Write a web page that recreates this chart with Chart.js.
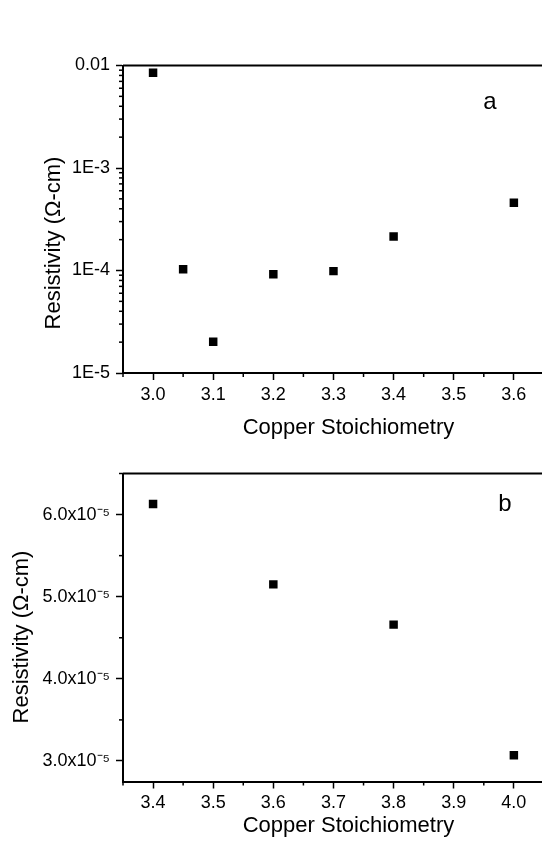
<!DOCTYPE html>
<html>
<head>
<meta charset="utf-8">
<script src="https://cdn.jsdelivr.net/npm/chart.js@4.4.1/dist/chart.umd.min.js"></script>
<style>
html,body{margin:0;padding:0;background:#fff;overflow:hidden;width:542px;height:843px;}
canvas{position:absolute;left:0;top:0;}
</style>
</head>
<body>
<canvas id="cA" width="580" height="843"></canvas>
<canvas id="cB" width="580" height="843"></canvas>
<script>
// Panel a
const stoichA = [3.0, 3.05, 3.1, 3.2, 3.3, 3.4, 3.6];
const resistA = [8.5e-3, 1.03e-4, 2.02e-5, 9.2e-5, 9.86e-5, 2.15e-4, 4.58e-4];
const xTicksA = [3.0, 3.1, 3.2, 3.3, 3.4, 3.5, 3.6];
const yTicksA = [1e-5, 1e-4, 1e-3, 1e-2];
const yLabelsA = ['1E-5', '1E-4', '1E-3', '0.01'];
// Panel b
const stoichB = [3.4, 3.6, 3.8, 4.0];
const resistB = [6.13e-5, 5.15e-5, 4.66e-5, 3.07e-5];
const xTicksB = [3.4, 3.5, 3.6, 3.7, 3.8, 3.9, 4.0];
const yTicksB = [3e-5, 4e-5, 5e-5, 6e-5];
const yLabelsB = ['3.0x10\u207B\u2075', '4.0x10\u207B\u2075', '5.0x10\u207B\u2075', '6.0x10\u207B\u2075'];
const xTitle = 'Copper Stoichiometry';
const yTitle = 'Resistivity (\u03A9-cm)';

const FONT = "'Liberation Sans', Arial, sans-serif";
const near = (a, b) => Math.abs(a - b) <= Math.abs(b) * 1e-6 + 1e-12;

function isMajor(list, v) { return list.some(t => near(v, t)); }

const framePlugin = {
  id: 'frame',
  afterDraw(chart, args, opts) {
    const ctx = chart.ctx, a = chart.chartArea;
    ctx.save();
    ctx.strokeStyle = '#000';
    ctx.lineWidth = 2;
    ctx.beginPath();
    ctx.moveTo(a.left, a.top); ctx.lineTo(a.right, a.top); ctx.lineTo(a.right, a.bottom);
    ctx.stroke();
    // minor tick marks
    ctx.lineWidth = 1.5;
    const xs = chart.scales.x, ys = chart.scales.y;
    xs.ticks.forEach(t => {
      if (isMajor(opts.xMajor, t.value)) return;
      const px = xs.getPixelForValue(t.value);
      ctx.beginPath(); ctx.moveTo(px, a.bottom); ctx.lineTo(px, a.bottom + 4); ctx.stroke();
    });
    ys.ticks.forEach(t => {
      if (isMajor(opts.yMajor, t.value)) return;
      const py = ys.getPixelForValue(t.value);
      ctx.beginPath(); ctx.moveTo(a.left, py); ctx.lineTo(a.left - 4, py); ctx.stroke();
    });
    // rotated y title
    ctx.fillStyle = '#000';
    ctx.font = '22px ' + FONT;
    ctx.textAlign = 'center';
    ctx.textBaseline = 'middle';
    ctx.translate(opts.yTitleX, opts.yTitleY);
    ctx.rotate(-Math.PI / 2);
    ctx.fillText(yTitle, 0, 0);
    ctx.restore();
    // panel letter
    ctx.save();
    ctx.fillStyle = '#000';
    ctx.font = '24px ' + FONT;
    ctx.textAlign = 'center';
    ctx.textBaseline = 'middle';
    ctx.fillText(opts.letter, opts.letterX, opts.letterY);
    ctx.restore();
  }
};

function makeChart(id, cfg) {
  const xs = cfg.xs, ys = cfg.ys;
  const pts = xs.map((x, i) => ({x: x, y: ys[i]}));
  return new Chart(document.getElementById(id), {
    type: 'scatter',
    data: { datasets: [{
      data: pts,
      pointStyle: 'rect',
      pointRadius: 6,
      pointHoverRadius: 6,
      borderWidth: 0,
      backgroundColor: '#000',
      borderColor: '#000'
    }]},
    plugins: [framePlugin],
    options: {
      responsive: false,
      animation: false,
      devicePixelRatio: 1,
      layout: { padding: cfg.padding },
      plugins: {
        legend: { display: false },
        tooltip: { enabled: false },
        frame: cfg.frame
      },
      scales: {
        x: {
          type: 'linear',
          min: cfg.xMin, max: cfg.xMax,
          afterBuildTicks: s => { s.ticks = cfg.xAll.map(v => ({value: v})); },
          afterFit: s => { s.height = cfg.xHeight; },
          grid: {
            display: true, drawOnChartArea: false, drawTicks: true, tickLength: 7,
            tickWidth: 1.5,
            tickColor: c => isMajor(cfg.xMajor, c.tick.value) ? '#000' : 'rgba(0,0,0,0)'
          },
          border: { display: true, color: '#000', width: 2 },
          ticks: {
            color: '#000', font: { family: FONT, size: 18 }, padding: 4,
            maxRotation: 0, autoSkip: false,
            callback: v => isMajor(cfg.xMajor, v) ? v.toFixed(1) : ''
          },
          title: { display: true, text: xTitle, color: '#000',
                   font: { family: FONT, size: 22 }, padding: { top: 0, bottom: 0 } }
        },
        y: {
          type: cfg.yType,
          min: cfg.yMin, max: cfg.yMax,
          afterBuildTicks: s => { s.ticks = cfg.yAll.map(v => ({value: v})); },
          afterFit: s => { s.width = 123; },
          grid: {
            display: true, drawOnChartArea: false, drawTicks: true, tickLength: 7,
            tickWidth: 1.5,
            tickColor: c => isMajor(cfg.yMajor, c.tick.value) ? '#000' : 'rgba(0,0,0,0)'
          },
          border: { display: true, color: '#000', width: 2 },
          ticks: {
            color: '#000', font: { family: FONT, size: 18 }, padding: 6,
            autoSkip: false,
            callback: v => {
              const i = cfg.yMajor.findIndex(t => near(v, t));
              return i >= 0 ? cfg.yLabels[i] : '';
            }
          }
        }
      }
    }
  });
}

// all tick positions (major + minor) for each axis
const xAllA = [2.95, 3.0, 3.05, 3.1, 3.15, 3.2, 3.25, 3.3, 3.35, 3.4, 3.45, 3.5, 3.55, 3.6, 3.65, 3.7];
const yAllA = [];
[1e-5, 1e-4, 1e-3].forEach(d => { for (let k = 1; k <= 9; k++) yAllA.push(k * d); });
yAllA.push(1e-2);
const xAllB = [3.35, 3.4, 3.45, 3.5, 3.55, 3.6, 3.65, 3.7, 3.75, 3.8, 3.85, 3.9, 3.95, 4.0, 4.05, 4.1];
const yAllB = [3e-5, 3.5e-5, 4e-5, 4.5e-5, 5e-5, 5.5e-5, 6e-5, 6.5e-5];

makeChart('cA', {
  xs: stoichA, ys: resistA,
  xMin: 2.95, xMax: 3.70, xAll: xAllA, xMajor: xTicksA,
  yType: 'logarithmic', yMin: 1e-5, yMax: 1e-2, yAll: yAllA, yMajor: yTicksA, yLabels: yLabelsA,
  xHeight: 68,
  padding: { left: 0, right: 5.5, top: 65.5, bottom: 843 - 373 - 68 },
  frame: { xMajor: xTicksA, yMajor: yTicksA, yTitleX: 54, yTitleY: 243, letter: 'a', letterX: 490, letterY: 102 }
});

makeChart('cB', {
  xs: stoichB, ys: resistB,
  xMin: 3.35, xMax: 4.10, xAll: xAllB, xMajor: xTicksB,
  yType: 'linear', yMin: 2.75e-5, yMax: 6.5e-5, yAll: yAllB, yMajor: yTicksB, yLabels: yLabelsB,
  xHeight: 58,
  padding: { left: 0, right: 5.5, top: 473.5, bottom: 843 - 781.5 - 58 },
  frame: { xMajor: xTicksB, yMajor: yTicksB, yTitleX: 22, yTitleY: 637, letter: 'b', letterX: 505, letterY: 504 }
});
</script>
</body>
</html>
